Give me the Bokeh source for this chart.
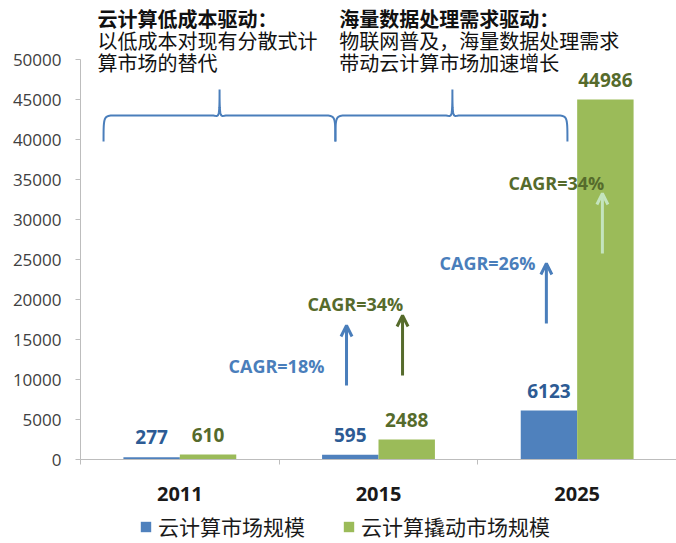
from bokeh.plotting import figure
from bokeh.layouts import column
from bokeh.models import Range1d, FixedTicker, Legend, LegendItem, Arrow, OpenHead
from bokeh.core.properties import value
from bokeh.embed import file_html
from bokeh.resources import INLINE
import numpy as np

# ---------------- data ----------------
years = ["2011", "2015", "2025"]
cloud_market = [277, 595, 6123]          # 云计算市场规模
driven_market = [610, 2488, 44986]       # 云计算撬动市场规模
series_names = ["云计算市场规模", "云计算撬动市场规模"]
y_ticks = list(range(0, 50001, 5000))

cagr_texts = ["CAGR=18%", "CAGR=34%", "CAGR=26%", "CAGR=34%"]
title1_lines = ["云计算低成本驱动：", "以低成本对现有分散式计", "算市场的替代"]
title2_lines = ["海量数据处理需求驱动：", "物联网普及，海量数据处理需求", "带动云计算市场加速增长"]

# ---------------- annotation placement (data units) ----------------
cagr_x = [0.745, 1.142, 1.807, 2.154]
cagr_y = [11750, 19500, 24625, 34625]
arrow_x = [1.339, 1.621, 2.345, 2.627]
arrow_y0 = [9250, 10500, 17000, 25750]
arrow_y1 = [16750, 18000, 24500, 33250]
title_x = [0.0856, 1.303]
title_y = [55125, 52375, 49625]
brace_spans = [(0.116, 0.700, 1.283), (1.283, 1.872, 2.451)]
brace_levels = (39750, 43000, 46250)  # end, shaft, tip

BLUE = "#4f81bd"
GREEN = "#9bbb59"
BLUE_TXT = "#2d5b94"
OLIVE = "#566b2c"
CAGR_BLUE = "#4a7ebb"
LIGHT_GREEN = "#c4e4bd"
CJK = "Noto Sans CJK SC"
LAT = "Open Sans"

W = 676
H_MAIN, H_LEG = 508, 35
FRAME_L, FRAME_BOTTOM_PX = 80, 459
YMAX = 57375
p = figure(width=W, height=H_MAIN, x_range=Range1d(0, 3), y_range=Range1d(0, YMAX),
           output_backend="svg", toolbar_location=None,
           min_border_left=FRAME_L, min_border_right=0, min_border_top=0,
           min_border_bottom=H_MAIN - FRAME_BOTTOM_PX)
p.outline_line_color = None
p.xgrid.visible = False
p.ygrid.visible = False
p.background_fill_color = "white"
p.border_fill_color = "white"

# px->data helpers
dx = 3.0 / (W - FRAME_L)
dy = YMAX / FRAME_BOTTOM_PX

idx = np.arange(len(years)) + 0.5
off, bw = 0.142, 0.284
xb = idx - off
xg = idx + off

p.vbar(x=xb, top=cloud_market, width=bw, bottom=0, fill_color=BLUE, line_color=None)
p.vbar(x=xg, top=driven_market, width=bw, bottom=0, fill_color=GREEN, line_color=None)

# value labels
lab_off = 20 * dy
p.text(x=xb, y=[v + lab_off for v in cloud_market], text=[str(v) for v in cloud_market],
       text_align="center", text_baseline="middle", text_color=BLUE_TXT,
       text_font=value(LAT), text_font_style="bold", text_font_size="19px")
p.text(x=xg, y=[v + lab_off for v in driven_market], text=[str(v) for v in driven_market],
       text_align="center", text_baseline="middle", text_color=OLIVE,
       text_font=value(LAT), text_font_style="bold", text_font_size="19px")

# axes
ya = p.yaxis[0]
ya.ticker = FixedTicker(ticks=y_ticks)
ya.bounds = (0, 50000)
ya.axis_line_color = "#bdbdbd"
ya.major_tick_line_color = "#bdbdbd"
ya.major_tick_in = 0
ya.major_tick_out = 5
ya.minor_tick_line_color = None
ya.major_label_text_font = LAT
ya.major_label_text_font_size = "17px"
ya.major_label_text_color = "#404040"
ya.major_label_standoff = 14

xa = p.xaxis[0]
xa.ticker = FixedTicker(ticks=list(idx), minor_ticks=[0, 1, 2, 3])
xa.major_label_overrides = {float(i): y for i, y in zip(idx, years)}
xa.axis_line_color = "#bdbdbd"
xa.major_tick_line_color = None
xa.major_tick_out = 0
xa.major_tick_in = 0
xa.minor_tick_line_color = "#bdbdbd"
xa.minor_tick_out = 5
xa.minor_tick_in = 0
xa.major_label_text_font = LAT
xa.major_label_text_font_style = "bold"
xa.major_label_text_font_size = "20px"
xa.major_label_text_color = "#1a1a1a"
xa.major_label_standoff = 22

# braces
def bez(p0, p1, p2, p3, n=20):
    t = np.linspace(0, 1, n)[:, None]
    pts = ((1 - t) ** 3) * np.array(p0) + 3 * ((1 - t) ** 2) * t * np.array(p1) \
        + 3 * (1 - t) * t ** 2 * np.array(p2) + t ** 3 * np.array(p3)
    return pts

ye, yh, yt = brace_levels
bxs, bys = [], []
for x0, xm, x1 in brace_spans:
    segs = [
        bez((x0, ye), (x0, yh), (x0, yh), (x0 + 12 * dx, yh)),
        np.array([[x0 + 12 * dx, yh], [xm - 7 * dx, yh]]),
        bez((xm - 7 * dx, yh), (xm - 1 * dx, yh), (xm, yh - 6 * dy), (xm, yt)),
        bez((xm, yt), (xm, yh - 6 * dy), (xm + 1 * dx, yh), (xm + 7 * dx, yh)),
        np.array([[xm + 7 * dx, yh], [x1 - 12 * dx, yh]]),
        bez((x1 - 12 * dx, yh), (x1, yh), (x1, yh), (x1, ye)),
    ]
    pts = np.vstack(segs)
    bxs.append(list(pts[:, 0]))
    bys.append(list(pts[:, 1]))
p.multi_line(xs=bxs, ys=bys, line_color=CAGR_BLUE, line_width=2)

# titles
for bx, lines in zip(title_x, [title1_lines, title2_lines]):
    for k, (ln, ty) in enumerate(zip(lines, title_y)):
        p.text(x=[bx], y=[ty], text=[ln], text_align="left", text_baseline="middle",
               text_color="#111111", text_font=value(CJK),
               text_font_style="bold" if k == 0 else "normal", text_font_size="20px")

# CAGR labels & arrows
cagr_colors = [CAGR_BLUE, OLIVE, CAGR_BLUE, OLIVE]
arrow_colors = [CAGR_BLUE, OLIVE, CAGR_BLUE, LIGHT_GREEN]
p.text(x=cagr_x, y=cagr_y, text=cagr_texts, text_align="left", text_baseline="middle",
       text_color=cagr_colors, text_font=value(LAT), text_font_style="bold",
       text_font_size="18px")
for ax, a0, a1, ac in zip(arrow_x, arrow_y0, arrow_y1, arrow_colors):
    p.add_layout(Arrow(end=OpenHead(size=11, line_color=ac, line_width=3),
                       x_start=ax, y_start=a0, x_end=ax, y_end=a1,
                       line_color=ac, line_width=3))

# ---------------- legend strip ----------------
q = figure(width=W, height=H_LEG, x_range=Range1d(0, 1), y_range=Range1d(0, 1),
           output_backend="svg", toolbar_location=None,
           x_axis_location=None, y_axis_location=None,
           min_border_left=0, min_border_right=0, min_border_top=0, min_border_bottom=0)
q.outline_line_color = None
q.xgrid.visible = False
q.ygrid.visible = False
lr1 = q.vbar(x=[0.5], top=[0], width=0.1, fill_color=BLUE, line_color=None)
lr2 = q.vbar(x=[0.5], top=[0], width=0.1, fill_color=GREEN, line_color=None)
legend = Legend(items=[LegendItem(label=series_names[0], renderers=[lr1]),
                       LegendItem(label=series_names[1], renderers=[lr2])],
                location=(59, 2), orientation="horizontal",
                glyph_width=13, glyph_height=13, label_standoff=6, spacing=37,
                padding=0, margin=0, border_line_color=None,
                background_fill_alpha=0, label_text_font=CJK,
                label_text_font_size="21px", label_text_color="#1a1a1a",
                label_height=20)
q.add_layout(legend)

layout = column(p, q, spacing=0)
open("out.html", "w").write(file_html(layout, INLINE))
